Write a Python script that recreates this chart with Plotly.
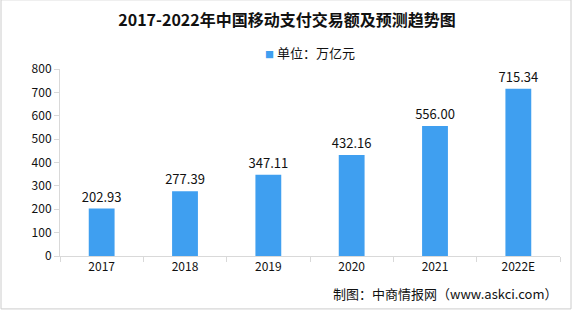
import plotly.graph_objects as go

years = ["2017", "2018", "2019", "2020", "2021", "2022E"]
values = [202.93, 277.39, 347.11, 432.16, 556.00, 715.34]
series_name = "单位：万亿元"
title = "2017-2022年中国移动支付交易额及预测趋势图"
source = "制图：中商情报网（www.askci.com）"

font_f = "Noto Sans CJK SC, DejaVu Sans, sans-serif"
axis_col = "#d9d9d9"
bar_col = "#3f9ff0"

fig = go.Figure()
fig.add_trace(go.Bar(
    x=years, y=values, name=series_name,
    marker=dict(color=bar_col, line=dict(width=0)),
    width=0.31,
    text=[f"{v:.2f}" for v in values], textposition="outside",
    constraintext="none",
    textfont=dict(size=13, color="#111", family=font_f),
    cliponaxis=False,
    showlegend=False,
))

fig.update_layout(
    width=574, height=312,
    margin=dict(l=60, r=14, t=69, b=56),
    paper_bgcolor="white", plot_bgcolor="white",
    font=dict(family=font_f, color="#111", size=12),
    title=dict(text="<b>" + title + "</b>", x=0.5, xanchor="center",
               y=0.935, yanchor="middle", font=dict(size=16, color="#111")),
    showlegend=False,
)
fig.update_xaxes(showline=True, linecolor=axis_col, ticks="outside", tickson="boundaries",
                 tickcolor=axis_col, ticklen=5, showgrid=False, tickfont=dict(size=12))
fig.update_yaxes(range=[0, 800], dtick=100, showline=True, linecolor=axis_col,
                 ticks="outside", tickcolor=axis_col, ticklen=5, showgrid=False,
                 zeroline=False, tickfont=dict(size=12))

# legend-like label
fig.add_annotation(text=f"<span style='color:{bar_col};font-size:9px'>■</span> " + series_name,
                   xref="paper", yref="paper", x=0.5, y=1.09,
                   xanchor="center", yanchor="middle", showarrow=False,
                   font=dict(size=13, color="#111"))

fig.add_annotation(text=source, xref="paper", yref="paper", x=1.0, y=-0.2,
                   xanchor="right", yanchor="middle", showarrow=False,
                   font=dict(size=13, color="#111"))

# outer frame
fig.add_shape(type="rect", xref="paper", yref="paper",
              x0=-0.118, x1=1.022, y0=-0.283, y1=1.37,
              line=dict(color="#cccccc", width=1))

fig.write_html("out.html")
